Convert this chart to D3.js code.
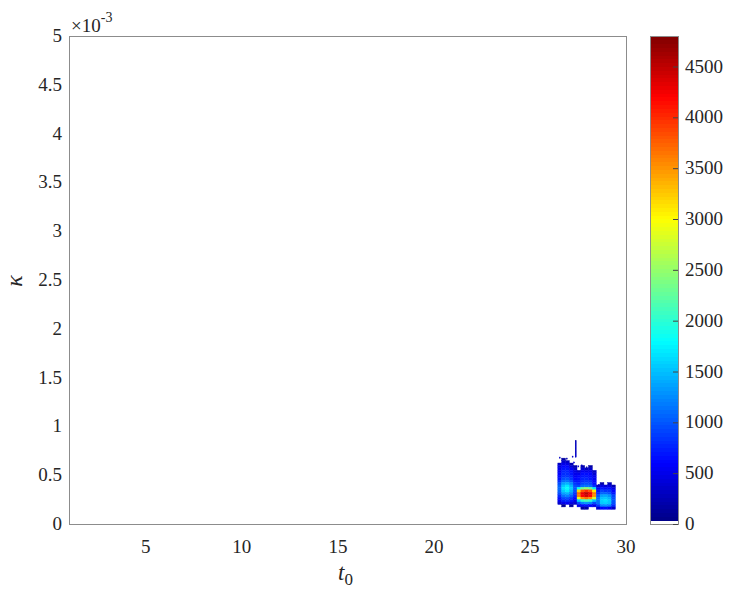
<!DOCTYPE html>
<meta charset="utf-8">
<script src="https://d3js.org/d3.v7.min.js"></script>
<style>
body { margin: 0; background: #fff; }
text { font-family: "Liberation Serif", "Times New Roman", serif; fill: #262626; }
.box { fill: none; stroke: #8c8c8c; stroke-width: 1px; }
</style>
<body>
<script>

// histogram bin edges (t0) and (kappa, in units of 1e-3)
var t0Edges = [26.45, 26.65, 26.85, 27.05, 27.25, 27.45, 27.65, 27.85, 28.05, 28.25, 28.45, 28.65, 28.85, 29.05, 29.25, 29.45];
var kappaEdges = [0.150, 0.175, 0.200, 0.225, 0.250, 0.275, 0.300, 0.325, 0.350, 0.375, 0.400,
                  0.425, 0.450, 0.475, 0.500, 0.525, 0.550, 0.575, 0.600, 0.625, 0.650, 0.675];

// counts, rows listed from top kappa bin down to the bottom one
var counts = [
  [0, 150, 0, 0, 0,          0, 0, 0, 0, 0,                0, 0, 0, 0, 0],
  [0, 350, 300, 0, 0,        0, 0, 0, 0, 0,                0, 0, 0, 0, 0],
  [300, 500, 450, 250, 0,    0, 0, 0, 0, 0,                0, 0, 0, 0, 0],
  [450, 600, 600, 400, 200,  0, 200, 0, 150, 0,            0, 0, 0, 0, 0],
  [500, 700, 700, 550, 350,  0, 400, 300, 350, 0,          0, 0, 0, 0, 0],
  [550, 750, 750, 650, 450,  350, 550, 500, 500, 300,      0, 0, 0, 0, 0],
  [600, 800, 800, 700, 500,  500, 650, 650, 600, 400,      0, 0, 0, 0, 0],
  [650, 850, 850, 750, 550,  600, 700, 700, 650, 500,      0, 0, 0, 0, 0],
  [700, 950, 1000, 850, 600, 650, 750, 750, 700, 550,      0, 0, 0, 0, 0],
  [800, 1100, 1150, 1000, 700, 700, 800, 850, 800, 600,    0, 0, 0, 0, 0],
  [950, 1350, 1450, 1250, 850, 750, 900, 950, 900, 650,    0, 200, 0, 250, 0],
  [1050, 1550, 1700, 1450, 950, 900, 1100, 1150, 1100, 800, 300, 450, 400, 450, 250],
  [1100, 1650, 1800, 1550, 1000, 1800, 2300, 2500, 2300, 1700, 550, 700, 650, 650, 450],
  [1050, 1550, 1700, 1450, 950, 3200, 3800, 4000, 3800, 3100, 700, 900, 850, 850, 600],
  [950, 1350, 1450, 1250, 850, 3700, 4300, 4500, 4300, 3600, 800, 1050, 1050, 1000, 700],
  [800, 1150, 1200, 1050, 750, 3600, 4200, 4400, 4200, 3500, 1000, 1350, 1400, 1300, 900],
  [650, 900, 950, 850, 600,  2900, 3500, 3700, 3500, 2800, 1100, 1500, 1550, 1450, 950],
  [550, 750, 800, 700, 500,  1600, 2000, 2100, 2000, 1500, 1150, 1600, 1650, 1550, 1000],
  [350, 500, 550, 450, 350,  900, 1200, 1300, 1200, 900,   1100, 1550, 1600, 1500, 950],
  [0, 100, 0, 150, 0,        500, 650, 700, 600, 450,      850, 1250, 1300, 1200, 800],
  [0, 0, 0, 0, 0,            0, 150, 200, 0, 0,            400, 600, 650, 550, 350]
];

// isolated fine cells (spike and stray samples)
var sparseT0 = [27.38, 27.38, 27.38, 27.38, 27.38, 27.38, 27.38, 27.38, 27.38, 27.38, 27.38, 27.38, 27.38, 27.38, 27.38, 27.38, 27.38,
                26.55, 26.92, 27.22, 27.30, 27.52, 27.70, 27.95, 28.60, 29.10];
var sparseKappa = [0.69, 0.70, 0.71, 0.72, 0.73, 0.74, 0.75, 0.76, 0.77, 0.78, 0.79, 0.80, 0.81, 0.82, 0.83, 0.84, 0.85,
                   0.68, 0.67, 0.69, 0.63, 0.59, 0.60, 0.58, 0.40, 0.41];
var sparseCount = [350, 300, 400, 300, 350, 250, 300, 350, 300, 250, 300, 350, 250, 300, 250, 300, 200,
                   300, 250, 300, 400, 350, 300, 250, 300, 250];

var xTicks = [5, 10, 15, 20, 25, 30];
var yTicks = [0, 0.5, 1, 1.5, 2, 2.5, 3, 3.5, 4, 4.5, 5];
var cTicks = [0, 500, 1000, 1500, 2000, 2500, 3000, 3500, 4000, 4500];
var cMax = 4800, nLevels = 128;

var width = 737, height = 594;
var mLeft = 69, mRight = 626, mTop = 36, mBottom = 524;

var svg = d3.select("body").append("svg")
    .attr("width", width)
    .attr("height", height);

var x = d3.scaleLinear().domain([1, 30]).range([mLeft, mRight]);
var y = d3.scaleLinear().domain([0, 5]).range([mBottom, mTop]);

function jet(v) {
  var c = function(a) { return Math.max(0, Math.min(1, a)); };
  var r = c(1.5 - Math.abs(4 * v - 3)),
      g = c(1.5 - Math.abs(4 * v - 2)),
      b = c(1.5 - Math.abs(4 * v - 1));
  return d3.rgb(r * 255, g * 255, b * 255).toString();
}
// quantized jet map, lowest level white
var level = d3.scaleQuantize().domain([0, cMax]).range(d3.range(nLevels));
function colorOf(v) {
  var l = level(v);
  return l == 0 ? "#fff" : jet((l + 0.5) / nLevels);
}

// cells
var cells = [];
counts.forEach(function(row, i) {
  var r = counts.length - 1 - i;
  row.forEach(function(v, j) {
    if (v > 0) cells.push({x0: t0Edges[j], x1: t0Edges[j + 1], k0: kappaEdges[r], k1: kappaEdges[r + 1], v: v});
  });
});
sparseT0.forEach(function(t, i) {
  cells.push({x0: t - 0.025, x1: t + 0.025, k0: sparseKappa[i] - 0.006, k1: sparseKappa[i] + 0.006, v: sparseCount[i]});
});

svg.append("g")
  .selectAll("rect")
  .data(cells)
  .enter().append("rect")
  .attr("x", d => x(d.x0))
  .attr("y", d => y(d.k1))
  .attr("width", d => x(d.x1) - x(d.x0))
  .attr("height", d => y(d.k0) - y(d.k1))
  .attr("fill", d => colorOf(d.v))
  .attr("stroke", d => colorOf(d.v))
  .attr("stroke-width", 0.4);

// box
svg.append("rect").attr("class", "box")
  .attr("x", mLeft + 0.5).attr("y", mTop + 0.5)
  .attr("width", mRight - mLeft).attr("height", mBottom - mTop);

svg.append("g").selectAll("text")
  .data(xTicks).enter().append("text")
  .attr("x", d => x(d)).attr("y", mBottom + 29)
  .attr("text-anchor", "middle")
  .style("font-size", "19px")
  .text(d => d);

svg.append("g").selectAll("text")
  .data(yTicks).enter().append("text")
  .attr("x", mLeft - 7).attr("y", d => y(d) + 6)
  .attr("text-anchor", "end")
  .style("font-size", "19px")
  .text(d => d);

// exponent
var ex = svg.append("text").attr("x", 71).attr("y", 32).style("font-size", "19px");
ex.append("tspan").text("\u00d710");
ex.append("tspan").attr("dy", -10).style("font-size", "14px").text("-3");

// axis labels
var xl = svg.append("text").attr("x", 338).attr("y", 580).style("font-size", "23px");
xl.append("tspan").style("font-style", "italic").text("t");
xl.append("tspan").attr("dy", 5).style("font-size", "17px").text("0");

svg.append("text")
  .attr("transform", "translate(22,281) rotate(-90)")
  .attr("text-anchor", "middle")
  .style("font-size", "24px")
  .style("font-style", "italic")
  .text("\u03ba");

// colorbar
var cbLeft = 650, cbRight = 678;
var cy = d3.scaleLinear().domain([0, cMax]).range([mBottom, mTop]);
var lv = d3.range(nLevels);
svg.append("g")
  .attr("shape-rendering", "crispEdges")
  .selectAll("rect")
  .data(lv).enter().append("rect")
  .attr("x", cbLeft)
  .attr("width", cbRight - cbLeft)
  .attr("y", d => Math.floor(cy((d + 1) * cMax / nLevels)))
  .attr("height", d => Math.ceil(cy(d * cMax / nLevels)) - Math.floor(cy((d + 1) * cMax / nLevels)))
  .attr("fill", d => d == 0 ? "#fff" : jet((d + 0.5) / nLevels));

svg.append("rect").attr("class", "box")
  .attr("x", cbLeft + 0.5).attr("y", mTop + 0.5)
  .attr("width", cbRight - cbLeft).attr("height", mBottom - mTop);

svg.append("g").selectAll("line")
  .data(cTicks).enter().append("line")
  .attr("x1", cbRight - 5).attr("x2", cbRight)
  .attr("y1", d => cy(d) + 0.5).attr("y2", d => cy(d) + 0.5)
  .attr("stroke", "#444").attr("stroke-width", 1);

svg.append("g").selectAll("text")
  .data(cTicks).enter().append("text")
  .attr("x", cbRight + 7).attr("y", d => cy(d) + 6)
  .style("font-size", "19px")
  .text(d => d);

</script>
</body>
